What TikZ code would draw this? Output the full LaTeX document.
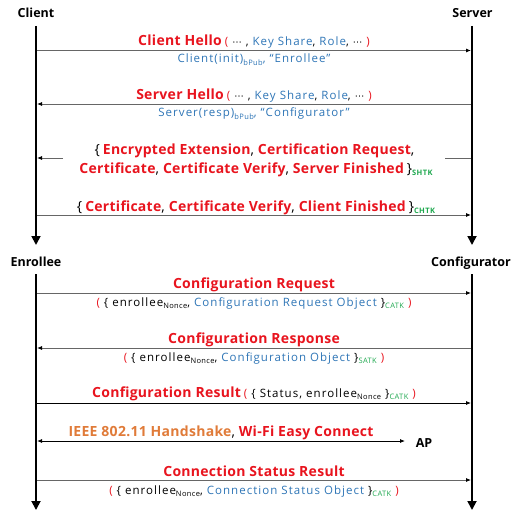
\documentclass[tikz,border=0pt]{standalone}
\usepackage{fontspec}
\setmainfont{Open Sans}
\newfontfamily\dvfont{DejaVu Sans}
\usetikzlibrary{arrows.meta}

\definecolor{cred}{HTML}{E8141E}
\definecolor{cblue}{HTML}{2E75B6}
\definecolor{cgreen}{HTML}{1FA84F}
\definecolor{corange}{HTML}{E07B39}

% text helpers
\newcommand\hd[1]{{\fontsize{14}{16}\selectfont\bfseries\addfontfeatures{LetterSpace=2}\color{cred}#1}}
\newcommand\og[1]{{\fontsize{14}{16}\selectfont\bfseries\addfontfeatures{LetterSpace=2}\color{corange}#1}}
\newcommand\bk[1]{{\fontsize{14}{16}\selectfont #1}}
\newcommand\sm{\fontsize{11.5}{13}\selectfont\addfontfeatures{LetterSpace=9}}
\newcommand\bl[1]{\textcolor{cblue}{#1}}
\newcommand\rd[1]{\textcolor{cred}{#1}}
\newcommand\sub[1]{\raisebox{-0.45ex}{\fontsize{7.5}{8}\selectfont\addfontfeatures{LetterSpace=5}#1}}
\newcommand\gsub[1]{\sub{\color{cgreen}#1}}
\newcommand\gbsub[1]{\sub{\color{cgreen}\bfseries #1}}
\newcommand\elp{{\dvfont\fontsize{9.5}{10}\selectfont ⋯}}
\newcommand\gap{\hspace{3pt}}
\newcommand\cm{\bk{,}\hspace{4pt}}

\tikzset{
  actor/.style={font=\fontsize{12.5}{15}\selectfont\bfseries, inner sep=0pt, anchor=base},
  lbl/.style={inner sep=0pt, anchor=base},
  life/.style={line width=1.8pt, -{Triangle[length=9pt,width=9pt]}},
  msg/.style={line width=0.8pt, black!60, -{Latex[length=5pt,width=4pt,color=black]}},
  msgplain/.style={line width=0.8pt, black!60},
  msgboth/.style={line width=0.8pt, black, {Latex[length=5pt,width=4pt]}-{Latex[length=5pt,width=4pt]}},
}

\begin{document}
\begin{tikzpicture}[x=1pt,y=-1pt]
\useasboundingbox (0,0) rectangle (518,513);

% ---------- handshake phase ----------
\node[actor] (client) at (36,18) {Client};
\node[actor] (server) at (472.5,18) {Server};
\coordinate (c0) at (36,26);  \coordinate (c1) at (36,245);
\coordinate (s0) at (472,26); \coordinate (s1) at (472,245);
\draw[life] (c0) -- (c1);
\draw[life] (s0) -- (s1);

% Client Hello
\coordinate (m1a) at (37,50.5); \coordinate (m1b) at (471,50.5);
\draw[msg] (m1a) -- (m1b);
\node[lbl] (ch) at (254,46) {\hd{Client Hello}\gap{\sm\rd{(} \elp\ , \bl{Key Share}, \bl{Role}, \elp\ \rd{)}}};
\node[lbl] (chs) at (254,63) {\sm\bl{Client(init)\sub{bPub}, “Enrollee”}};

% Server Hello
\coordinate (m2a) at (471,104); \coordinate (m2b) at (37,104);
\draw[msg] (m2a) -- (m2b);
\node[lbl] (sh) at (254,100) {\hd{Server Hello}\gap{\sm\rd{(} \elp\ , \bl{Key Share}, \bl{Role}, \elp\ \rd{)}}};
\node[lbl] (shs) at (254,117) {\sm\bl{Server(resp)\sub{bPub}, “Configurator”}};

% Encrypted server flight (arrow broken around the text)
\coordinate (m3a) at (471,158); \coordinate (m3g) at (445,158);
\coordinate (m3h) at (63,158);  \coordinate (m3b) at (37,158);
\draw[msgplain] (m3a) -- (m3g);
\draw[msg] (m3h) -- (m3b);
\node[lbl] (enc1) at (254.5,154) {\bk{\{}\gap\hd{Encrypted Extension}\cm\hd{Certification Request}\bk{,}};
\node[lbl] (enc2) at (256,173) {\hd{Certificate}\cm\hd{Certificate Verify}\cm\hd{Server Finished}\gap\bk{\}}\gbsub{SHTK}};

% Client flight
\coordinate (m4a) at (37,215); \coordinate (m4b) at (471,215);
\draw[msg] (m4a) -- (m4b);
\node[lbl] (cf) at (256,211) {\bk{\{}\gap\hd{Certificate}\cm\hd{Certificate Verify}\cm\hd{Client Finished}\gap\bk{\}}\gbsub{CHTK}};

% ---------- configuration phase ----------
\node[actor] (enr) at (36,266) {Enrollee};
\node[actor] (cfg) at (471,266) {Configurator};
\coordinate (e0) at (36,274);  \coordinate (e1) at (36,510);
\coordinate (g0) at (472,274); \coordinate (g1) at (472,510);
\draw[life] (e0) -- (e1);
\draw[life] (g0) -- (g1);

% Configuration Request
\coordinate (m5a) at (37,293); \coordinate (m5b) at (471,293);
\draw[msg] (m5a) -- (m5b);
\node[lbl] (creq) at (254,288.5) {\hd{Configuration Request}};
\node[lbl] (creqs) at (254,306) {\sm\rd{(} \{ enrollee\sub{Nonce}, \bl{Configuration Request Object} \}\gsub{CATK} \rd{)}};

% Configuration Response
\coordinate (m6a) at (471,348); \coordinate (m6b) at (37,348);
\draw[msg] (m6a) -- (m6b);
\node[lbl] (cresp) at (254,343) {\hd{Configuration Response}};
\node[lbl] (cresps) at (254,361) {\sm\rd{(} \{ enrollee\sub{Nonce}, \bl{Configuration Object} \}\gsub{SATK} \rd{)}};

% Configuration Result
\coordinate (m7a) at (37,403); \coordinate (m7b) at (471,403);
\draw[msg, black] (m7a) -- (m7b);
\node[lbl] (cres) at (254,397) {\hd{Configuration Result}\gap{\sm\rd{(} \{ Status, enrollee\sub{Nonce} \}\gsub{CATK} \rd{)}}};

% Network access with the AP
\node[actor] (ap) at (424,447) {AP};
\coordinate (m8a) at (37,441); \coordinate (m8b) at (405,441);
\draw[msgboth] (m8a) -- (m8b);
\node[lbl] (ieee) at (221,436) {\og{IEEE 802.11 Handshake}\cm\hd{Wi-Fi Easy Connect}};

% Connection Status Result
\coordinate (m9a) at (37,480); \coordinate (m9b) at (471,480);
\draw[msg] (m9a) -- (m9b);
\node[lbl] (csr) at (254,476) {\hd{Connection Status Result}};
\node[lbl] (csrs) at (254,494) {\sm\rd{(} \{ enrollee\sub{Nonce}, \bl{Connection Status Object} \}\gsub{CATK} \rd{)}};
\end{tikzpicture}
\end{document}
